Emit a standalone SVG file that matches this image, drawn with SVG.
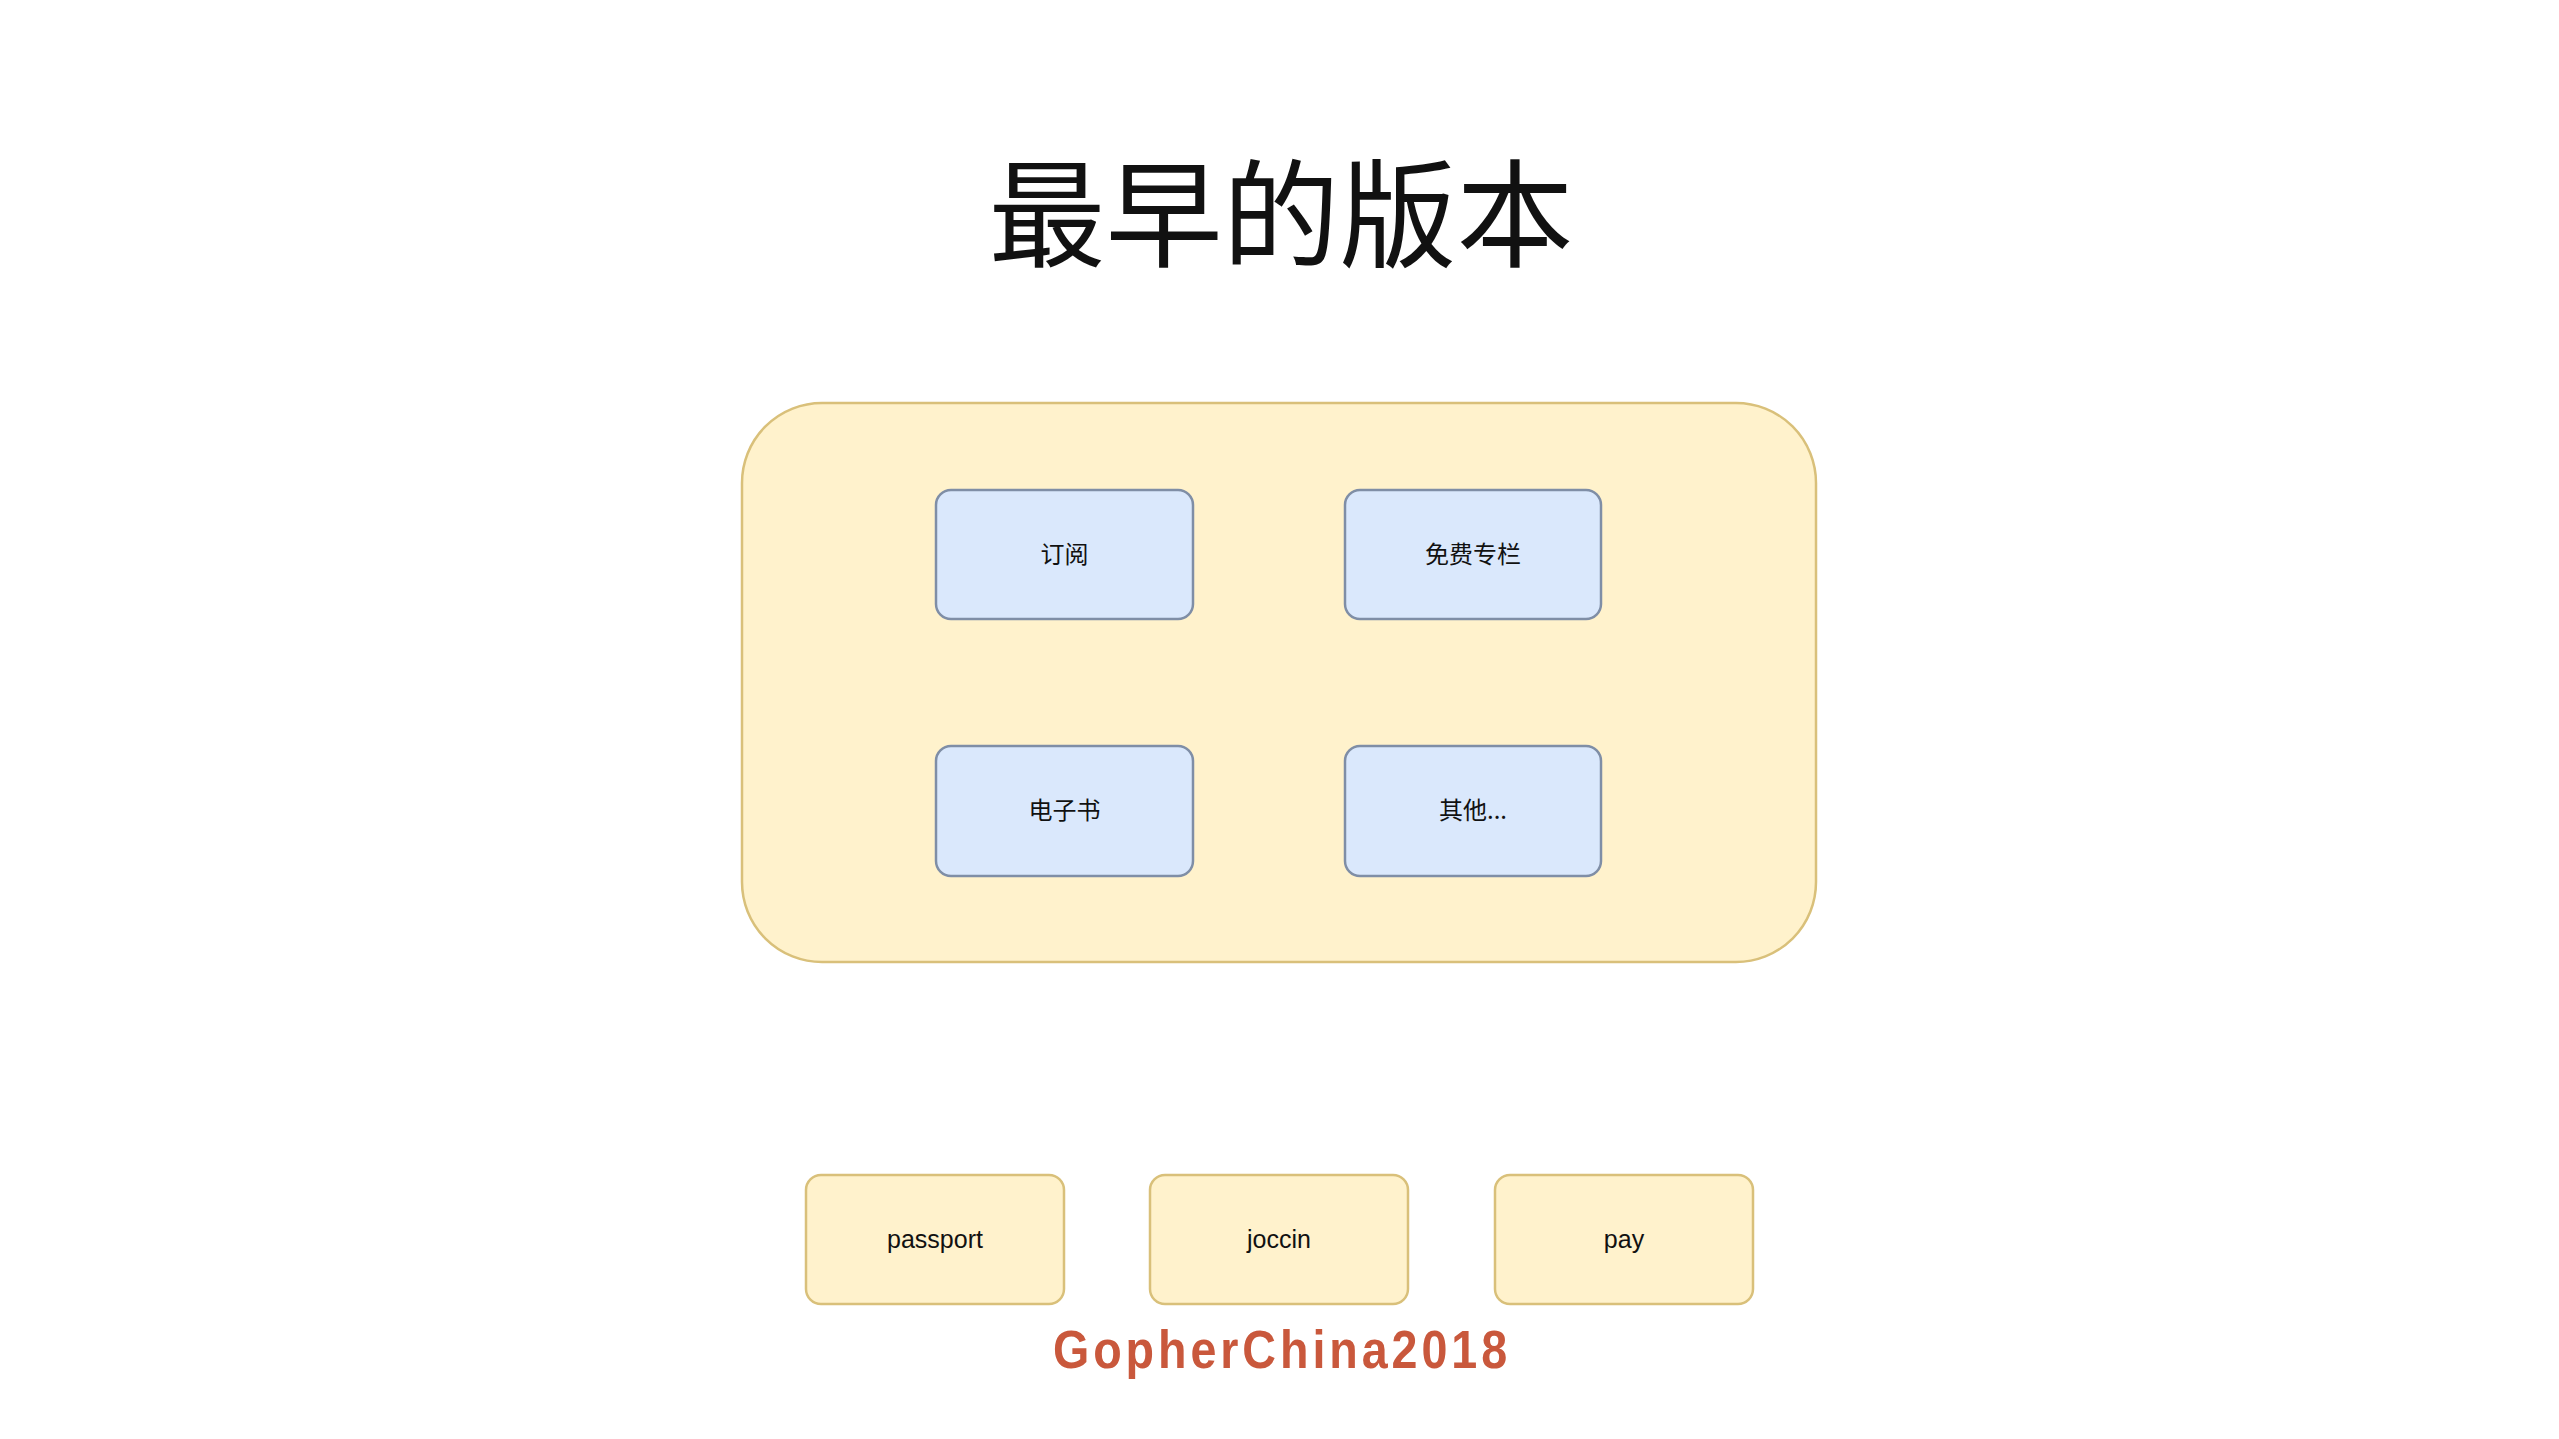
<svg xmlns="http://www.w3.org/2000/svg" width="2559" height="1439" viewBox="0 0 2559 1439">
<style>
.bg{fill:#ffffff}
.yel{fill:#fff2cc;stroke:#d9c07a;stroke-width:2.5}
.blue{fill:#dae8fc;stroke:#7f8ea6;stroke-width:2.5}
.cjk{font-family:"Noto Sans CJK SC","Noto Sans",sans-serif;fill:#111}
.lat{font-family:"Liberation Sans",Arial,sans-serif;fill:#111}
</style>
<rect class="bg" x="0" y="0" width="2559" height="1439"/>
<g id="title">
<text class="cjk" x="1281" y="258" font-size="117" text-anchor="middle" fill="#000">最早的版本</text>
</g>
<g id="container">
<rect class="yel" x="742" y="403" width="1074" height="559" rx="80" ry="80"/>
</g>
<g id="node-subscribe">
<rect class="blue" x="936" y="490" width="257" height="129" rx="15" ry="15"/>
<text class="cjk" x="1064.5" y="563" font-size="24" text-anchor="middle">订阅</text>
</g>
<g id="node-free">
<rect class="blue" x="1345" y="490" width="256" height="129" rx="15" ry="15"/>
<text class="cjk" x="1473" y="563" font-size="24" text-anchor="middle">免费专栏</text>
</g>
<g id="node-ebook">
<rect class="blue" x="936" y="746" width="257" height="130" rx="15" ry="15"/>
<text class="cjk" x="1064.5" y="819" font-size="24" text-anchor="middle">电子书</text>
</g>
<g id="node-other">
<rect class="blue" x="1345" y="746" width="256" height="130" rx="15" ry="15"/>
<text class="cjk" x="1473" y="819" font-size="24" text-anchor="middle">其他...</text>
</g>
<g id="node-passport">
<rect class="yel" x="806" y="1175" width="258" height="129" rx="15" ry="15"/>
<text class="lat" x="935" y="1248" font-size="25" text-anchor="middle">passport</text>
</g>
<g id="node-joccin">
<rect class="yel" x="1150" y="1175" width="258" height="129" rx="15" ry="15"/>
<text class="lat" x="1279" y="1248" font-size="25" text-anchor="middle">joccin</text>
</g>
<g id="node-pay">
<rect class="yel" x="1495" y="1175" width="258" height="129" rx="15" ry="15"/>
<text class="lat" x="1624" y="1248" font-size="25" text-anchor="middle">pay</text>
</g>
<g id="connectors"></g>
<g id="footer">
<text transform="translate(1053,1368) scale(0.88,1)" x="0" y="0" font-family="'Liberation Sans',Arial,sans-serif" font-weight="bold" font-size="53" fill="#c9583c" textLength="516" lengthAdjust="spacing">GopherChina2018</text>
</g>
</svg>
